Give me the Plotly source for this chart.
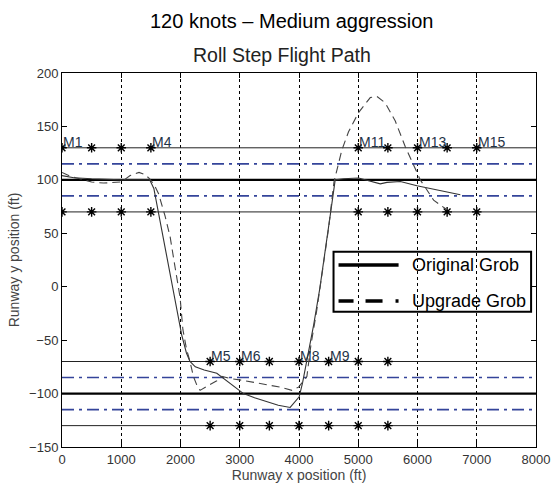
import plotly.graph_objects as go

# ---------------- data ----------------
orig_x = [0, 200, 500, 800, 1000, 1200, 1400, 1480, 1550, 1620, 1700, 1780, 1860, 1940, 2020,
          2100, 2160, 2250, 2400, 2613, 2838, 3063, 3250, 3457, 3650, 3851, 3930, 4003, 4060,
          4133, 4250, 4350, 4443, 4530, 4611, 4750, 5005, 5200, 5372, 5484, 5710, 5991, 6300,
          6500, 6723]
orig_y = [104, 102, 101, 100, 100, 100, 100, 100, 92, 72, 48, 25, 2, -22, -45,
          -62, -70, -75, -78, -81, -90.6, -100, -104, -108, -111, -113, -108, -103, -90,
          -70, -35, -2, 32, 68, 100, 101, 101.7, 99, 96.3, 97.6, 98.5, 94.5, 91,
          89, 86]

upg_x = [0, 150, 300, 500, 700, 1000, 1150, 1300, 1400, 1480, 1560, 1630, 1740, 1824, 1909,
         1993, 2040, 2100, 2160, 2218, 2275, 2331, 2450, 2613, 2697, 2850, 3035, 3200, 3400,
         3682, 3880, 3993, 4133, 4200, 4300, 4400, 4500, 4590, 4640, 4724, 4836, 5005, 5203,
         5316, 5456, 5625, 5794, 5934, 6047, 6272, 6498]
upg_y = [107, 103, 101, 98, 97, 98, 104, 107, 105, 101, 95, 87, 66, 47, 18,
         -10, -40, -58, -70, -84, -92, -97, -93, -88, -84, -86, -87.5, -89, -91,
         -94, -97, -94, -84, -55, -22, 15, 55, 98, 109, 128, 145, 163, 177,
         178, 172, 155, 131, 113, 100, 81, 72]

gate_outer_y = [130, 70, -70, -130]     # thin black gate lines
gate_centre_y = [100, -100]             # thick black centre lines
gate_tol_y = [115, 85, -85, -115]       # blue dash-dot tolerance lines

upper_mark_x = [0, 500, 1000, 1500, 5000, 5500, 6000, 6500, 7000]
upper_mark_y = [130, 70]
lower_mark_x = [2500, 3000, 3500, 4000, 4500, 5000, 5500]
lower_mark_y = [-70, -130]

label_text = ["M1", "M4", "M5", "M6", "M8", "M9", "M11", "M13", "M15"]
label_x = [0, 1500, 2500, 3000, 4000, 4500, 5000, 6000, 7000]
label_y = [130, 130, -70, -70, -70, -70, 130, 130, 130]

x_ticks = [0, 1000, 2000, 3000, 4000, 5000, 6000, 7000, 8000]
y_ticks = [-150, -100, -50, 0, 50, 100, 150, 200]

legend_names = ["Original Grob", "Upgrade Grob"]

FONT = "Liberation Sans, Arial, sans-serif"

fig = go.Figure()

# gate lines
for yv in gate_outer_y:
    fig.add_trace(go.Scatter(x=[0, 8000], y=[yv, yv], mode="lines",
                             line=dict(color="#222222", width=1), showlegend=False, hoverinfo="skip"))
for yv in gate_tol_y:
    fig.add_trace(go.Scatter(x=[0, 8000], y=[yv, yv], mode="lines",
                             line=dict(color="#34449a", width=1.6, dash="12px,5px,3px,5px"),
                             showlegend=False, hoverinfo="skip"))
for yv in gate_centre_y:
    fig.add_trace(go.Scatter(x=[0, 8000], y=[yv, yv], mode="lines",
                             line=dict(color="#000000", width=2.2), showlegend=False, hoverinfo="skip"))

# markers
for yv in upper_mark_y:
    fig.add_trace(go.Scatter(x=upper_mark_x, y=[yv] * len(upper_mark_x), mode="markers",
                             marker=dict(symbol="asterisk-open", size=8, color="#000",
                                         line=dict(color="#000", width=1.4)),
                             showlegend=False, hoverinfo="skip"))
for yv in lower_mark_y:
    fig.add_trace(go.Scatter(x=lower_mark_x, y=[yv] * len(lower_mark_x), mode="markers",
                             marker=dict(symbol="asterisk-open", size=8, color="#000",
                                         line=dict(color="#000", width=1.4)),
                             showlegend=False, hoverinfo="skip"))

# flight paths
fig.add_trace(go.Scatter(x=orig_x, y=orig_y, mode="lines", name=legend_names[0],
                         line=dict(color="#333333", width=1.1), showlegend=False))
fig.add_trace(go.Scatter(x=upg_x, y=upg_y, mode="lines", name=legend_names[1],
                         line=dict(color="#444444", width=1.1, dash="8px,5px"), showlegend=False))

annotations = []
for t, xv, yv in zip(label_text, label_x, label_y):
    annotations.append(dict(x=xv, y=yv, xref="x", yref="y", text=t, showarrow=False,
                            xanchor="left", yanchor="bottom", yshift=-4, xshift=-1,
                            font=dict(family=FONT, size=14, color="#1f3347")))

# titles
annotations.append(dict(x=(292 - 62) / 473.6, y=(446.7 - 21) / 373.4, xref="paper", yref="paper",
                        text="120 knots – Medium aggression", showarrow=False,
                        xanchor="center", yanchor="middle",
                        font=dict(family=FONT, size=20, color="#000")))
annotations.append(dict(x=(282 - 62) / 473.6, y=(446.7 - 55) / 373.4, xref="paper", yref="paper",
                        text="Roll Step Flight Path", showarrow=False,
                        xanchor="center", yanchor="middle",
                        font=dict(family=FONT, size=19.5, color="#222")))

# manual legend
lx0, lx1 = (333.3 - 62) / 473.6, (530.7 - 62) / 473.6
ly0, ly1 = (446.7 - 311.7) / 373.4, (446.7 - 251.7) / 373.4
ln_x0, ln_x1 = (338.3 - 62) / 473.6, (398.3 - 62) / 473.6
row_y = [(446.7 - 265) / 373.4, (446.7 - 301) / 373.4]
txt_x = (411.7 - 62) / 473.6
shapes = [dict(type="rect", xref="paper", yref="paper", x0=lx0, x1=lx1, y0=ly0, y1=ly1,
               line=dict(color="#000", width=2), fillcolor="rgba(0,0,0,0)", layer="above"),
          dict(type="line", xref="paper", yref="paper", x0=ln_x0, x1=ln_x1, y0=row_y[0], y1=row_y[0],
               line=dict(color="#000", width=3.5), layer="above"),
          dict(type="line", xref="paper", yref="paper", x0=ln_x0, x1=ln_x1, y0=row_y[1], y1=row_y[1],
               line=dict(color="#000", width=3.5, dash="15px,12px,17px,13px,3px,60px"), layer="above")]
for name, ry in zip(legend_names, row_y):
    annotations.append(dict(x=txt_x, y=ry, xref="paper", yref="paper", text=name, showarrow=False,
                            xanchor="left", yanchor="middle", xshift=-2,
                            font=dict(family=FONT, size=18, color="#000")))

fig.update_layout(
    width=552, height=486,
    margin=dict(l=62, r=16.4, t=73.3, b=39.3),
    paper_bgcolor="white", plot_bgcolor="white",
    showlegend=False,
    annotations=annotations, shapes=shapes,
    font=dict(family=FONT),
)
fig.update_xaxes(range=[0, 8000], tickvals=x_ticks, ticks="inside", ticklen=5, tickcolor="#000",
                 showline=True, linecolor="#000", linewidth=1, mirror="ticks", automargin=False,
                 showgrid=True, gridcolor="#000", gridwidth=1, griddash="dot", zeroline=False,
                 tickfont=dict(family=FONT, size=13, color="#333"),
                 title=dict(text="Runway x position (ft)", standoff=4,
                            font=dict(family=FONT, size=14, color="#444")))
fig.update_yaxes(range=[-150, 200], tickvals=y_ticks, ticks="inside", ticklen=5, tickcolor="#000",
                 showline=True, linecolor="#000", linewidth=1, mirror="ticks", automargin=False,
                 showgrid=False, zeroline=False,
                 tickfont=dict(family=FONT, size=13, color="#333"),
                 title=dict(text="Runway y position (ft)", standoff=6,
                            font=dict(family=FONT, size=14, color="#444")))

fig.write_html("out.html")
